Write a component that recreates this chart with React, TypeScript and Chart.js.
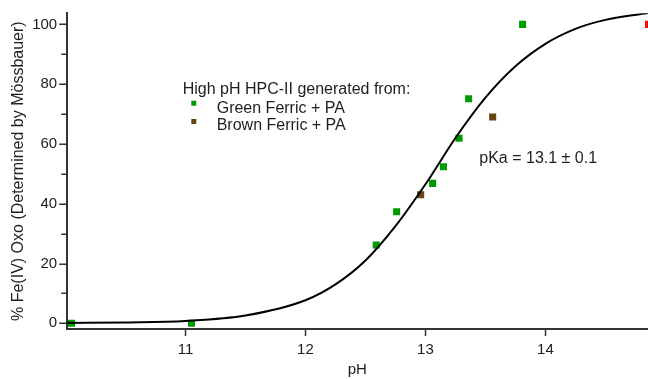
import { useEffect, useRef } from 'react';
import { Chart, registerables } from 'chart.js';

Chart.register(...registerables);

// ---- data ----
const greenPH = [10.05, 11.05, 12.59, 12.76, 13.06, 13.15, 13.28, 13.36, 13.81];
const greenOxo = [0, 0, 26.2, 37.3, 46.8, 52.4, 61.9, 75.1, 100];
const brownPH = [12.96, 13.56];
const brownOxo = [43.0, 69.0];
const redPH = [14.86];
const redOxo = [100];
const fitPH = [10.01, 10.5, 11, 11.5, 12, 12.25, 12.5, 12.75, 13, 13.25, 13.5, 13.75, 14, 14.25, 14.5, 14.86];
const fitOxo = [0.1, 0.3, 0.8, 2.6, 7.7, 13, 21, 32.5, 46.5, 62, 75.5, 86, 93.5, 98.5, 101.5, 103.8];
const xTicks = [11, 12, 13, 14];
const yTicks = [0, 10, 20, 30, 40, 50, 60, 70, 80, 90, 100];
const yLabelTicks = [0, 20, 40, 60, 80, 100];
const xRange = [10.01, 14.855];
const yRange = [-1.9, 103.7];
const legendTitle = 'High pH HPC-II generated from:';
const seriesNames = ['Green Ferric + PA', 'Brown Ferric + PA'];
const fitLabel = 'pKa = 13.1 ± 0.1';
const xTitle = 'pH';
const yTitle = '% Fe(IV) Oxo (Determined by Mössbauer)';

const GREEN = '#009a00';
const BROWN = '#664510';
const RED = '#ff0000';
const AXIS = '#333333';
const TEXT = '#1e1e1e';
const FONT = '"Liberation Sans", Arial, sans-serif';

const toXY = (xs: number[], ys: number[]) => xs.map((x, i) => ({ x, y: ys[i] }));

const annotations = {
  id: 'annotations',
  afterDatasetsDraw(chart: any) {
    const { ctx, chartArea } = chart;
    const L = chartArea.left;
    const T = chartArea.top;
    ctx.save();
    // y-axis tick marks: long at labelled values, short in between
    const ys = chart.scales.y;
    ctx.strokeStyle = AXIS;
    ctx.lineWidth = 1.5;
    yTicks.forEach((v) => {
      const py = Math.round(ys.getPixelForValue(v)) + 0.25;
      const len = yLabelTicks.includes(v) ? 7.5 : 5.5;
      ctx.beginPath();
      ctx.moveTo(L, py);
      ctx.lineTo(L - len, py);
      ctx.stroke();
    });

    ctx.fillStyle = TEXT;
    ctx.font = `16px ${FONT}`;
    ctx.textAlign = 'left';
    ctx.textBaseline = 'alphabetic';
    ctx.fillText(legendTitle, L + 116, T + 80.7);
    const colors = [GREEN, BROWN];
    const markerY = [T + 89.9, T + 108.2];
    const textY = [T + 99.2, T + 116.4];
    seriesNames.forEach((name, i) => {
      ctx.fillStyle = colors[i];
      ctx.fillRect(L + 124.6, markerY[i] - 2.5, 5, 5);
      ctx.fillStyle = TEXT;
      ctx.fillText(name, L + 150, textY[i]);
    });
    ctx.fillText(fitLabel, L + 412.6, T + 149.4);
    ctx.restore();
  },
};

export default function App() {
  const ref = useRef<HTMLCanvasElement | null>(null);

  useEffect(() => {
    if (!ref.current) return;
    const pointDs = (label: string, xs: number[], ys: number[], color: string) => ({
      label,
      data: toXY(xs, ys),
      showLine: false,
      pointStyle: 'rect',
      pointRadius: 5,
      pointBorderWidth: 0,
      pointBackgroundColor: color,
      pointBorderColor: color,
      backgroundColor: color,
      borderColor: color,
    });
    const chart = new Chart(ref.current, {
      type: 'scatter',
      data: {
        datasets: [
          {
            label: 'fit',
            data: toXY(fitPH, fitOxo),
            showLine: true,
            borderColor: '#000000',
            borderWidth: 2,
            pointRadius: 0,
            cubicInterpolationMode: 'monotone',
            fill: false,
          } as any,
          pointDs(seriesNames[0], greenPH, greenOxo, GREEN),
          pointDs(seriesNames[1], brownPH, brownOxo, BROWN),
          pointDs('red', redPH, redOxo, RED),
        ],
      },
      options: {
        animation: false,
        responsive: true,
        maintainAspectRatio: false,
        layout: { autoPadding: false, padding: { top: 13.3, right: 0, left: 0, bottom: 0 } },
        plugins: {
          legend: { display: false },
          tooltip: { enabled: false },
          title: { display: false },
        },
        scales: {
          x: {
            type: 'linear',
            min: xRange[0],
            max: xRange[1],
            afterBuildTicks: (scale: any) => {
              scale.ticks = xTicks.map((v) => ({ value: v }));
            },
            afterFit: (scale: any) => {
              scale.height = 50;
              scale.paddingLeft = 0;
              scale.paddingRight = 0;
            },
            ticks: {
              color: TEXT,
              font: { family: FONT, size: 15 },
              padding: 5,
              maxRotation: 0,
              autoSkip: false,
            },
            grid: {
              display: true,
              drawOnChartArea: false,
              drawTicks: true,
              tickLength: 7,
              tickColor: AXIS,
              tickWidth: 1.5,
            },
            border: { display: true, color: AXIS, width: 2 },
            title: {
              display: true,
              text: xTitle,
              color: TEXT,
              font: { family: FONT, size: 15 },
              padding: { top: 0, bottom: 0 },
            },
          },
          y: {
            type: 'linear',
            min: yRange[0],
            max: yRange[1],
            afterBuildTicks: (scale: any) => {
              scale.ticks = yTicks.map((v) => ({ value: v }));
            },
            afterFit: (scale: any) => {
              scale.width = 66.7;
              scale.paddingTop = 0;
              scale.paddingBottom = 0;
            },
            ticks: {
              color: TEXT,
              font: { family: FONT, size: 15 },
              padding: 9.5,
              autoSkip: false,
              callback: (v: any) => (yLabelTicks.includes(Number(v)) ? String(v) : ''),
            },
            grid: {
              display: false,
              drawOnChartArea: false,
              drawTicks: false,
            },
            border: { display: true, color: AXIS, width: 2 },
            title: {
              display: true,
              text: yTitle,
              color: TEXT,
              font: { family: FONT, size: 16 },
              padding: { top: 9, bottom: 0 },
            },
          },
        },
      },
      plugins: [annotations],
    });
    return () => chart.destroy();
  }, []);

  return (
    <div style={{ position: 'absolute', left: 0, top: 0, width: 648, height: 379 }}>
      <canvas ref={ref} />
    </div>
  );
}
